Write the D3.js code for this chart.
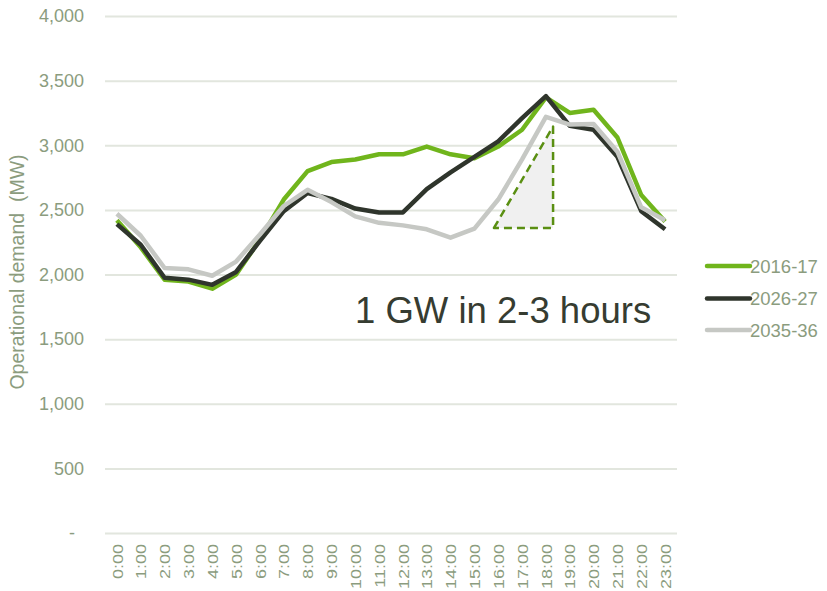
<!DOCTYPE html>
<html>
<head>
<meta charset="utf-8">
<script src="https://cdn.jsdelivr.net/npm/d3@7"></script>
<style>
  html, body { margin: 0; padding: 0; background: #ffffff; }
  svg { display: block; font-family: "Liberation Sans", Arial, sans-serif; }
</style>
</head>
<body>
<svg id="chart" width="827" height="591"></svg>
<script>
// Hour-of-day categories
const hours = ["0:00","1:00","2:00","3:00","4:00","5:00","6:00","7:00","8:00","9:00","10:00","11:00",
               "12:00","13:00","14:00","15:00","16:00","17:00","18:00","19:00","20:00","21:00","22:00","23:00"];

// Average operational demand profiles (MW)
const demand2016 = [2420, 2210, 1960, 1945, 1890, 2000, 2270, 2580, 2800, 2870, 2890, 2930,
                    2930, 2990, 2930, 2900, 2990, 3120, 3370, 3250, 3275, 3060, 2615, 2410];
const demand2026 = [2390, 2230, 1975, 1960, 1920, 2020, 2260, 2490, 2630, 2585, 2510, 2480,
                    2480, 2660, 2790, 2910, 3030, 3210, 3380, 3150, 3120, 2910, 2490, 2350];
const demand2035 = [2470, 2300, 2050, 2040, 1990, 2100, 2310, 2530, 2655, 2560, 2450, 2400,
                    2380, 2350, 2285, 2355, 2580, 2890, 3220, 3160, 3165, 2950, 2520, 2420];

const seriesNames = ["2016-17", "2026-27", "2035-36"];
const yTicks = [0, 500, 1000, 1500, 2000, 2500, 3000, 3500, 4000];

// Ramp annotation triangle (fractional hour, MW)
const rampHours = [15.82, 18.3, 18.3];
const rampValues = [2360, 3145, 2360];
const rampLabel = "1 GW in 2-3 hours";

const series = [
  { name: seriesNames[0], values: demand2016, color: "#70b51c" },
  { name: seriesNames[1], values: demand2026, color: "#2f352c" },
  { name: seriesNames[2], values: demand2035, color: "#c6c8c4" }
];

const svg = d3.select("#chart");
const plot = { left: 105, right: 677, top: 16, bottom: 533 };

const x = d3.scalePoint().domain(hours).range([plot.left, plot.right]).padding(0.5);
const y = d3.scaleLinear().domain([0, 4000]).range([plot.bottom, plot.top]);
// continuous hour scale for the annotation, aligned with the point scale
const xh = d3.scaleLinear().domain([0, 23]).range([x(hours[0]), x(hours[23])]);

const labelColor = "#8b9c7e";

// Horizontal gridlines with value labels
const yAxis = d3.axisLeft(y)
  .tickValues(yTicks)
  .tickSize(-(plot.right - plot.left))
  .tickPadding(21)
  .tickFormat(d => d === 0 ? "-" : d3.format(",")(d));

const gy = svg.append("g")
  .attr("transform", `translate(${plot.left},0)`)
  .call(yAxis);
gy.select(".domain").remove();
gy.selectAll(".tick line").attr("stroke", "#e2e6de").attr("stroke-width", 2);
gy.selectAll(".tick text")
  .attr("fill", labelColor)
  .attr("font-size", 18)
  .attr("dx", d => d === 0 ? -9 : 0);

// Hour labels, rotated
const xAxis = d3.axisBottom(x).tickSize(0).tickPadding(0);
const gx = svg.append("g")
  .attr("transform", `translate(0,${plot.bottom})`)
  .call(xAxis);
gx.select(".domain").remove();
gx.selectAll(".tick text")
  .attr("fill", labelColor)
  .attr("font-size", 18)
  .attr("text-anchor", "end")
  .attr("transform", "translate(0,11) rotate(-90) scale(1,0.8)")
  .attr("x", 0)
  .attr("y", 0)
  .attr("dy", "0.36em");

// Y axis title
svg.append("text")
  .attr("transform", `translate(24,${272}) rotate(-90)`)
  .attr("text-anchor", "middle")
  .attr("fill", labelColor)
  .attr("font-size", 19.5)
  .attr("xml:space", "preserve")
  .text("Operational demand  (MW)");

// Ramp triangle
const rampPts = rampHours.map((h, i) => [xh(h), y(rampValues[i])]);
svg.append("path")
  .attr("d", d3.line()(rampPts) + "Z")
  .attr("fill", "#f0f0f0")
  .attr("stroke", "#5a8f12")
  .attr("stroke-width", 2.5)
  .attr("stroke-dasharray", "8,5")
  .attr("stroke-linejoin", "round");

// Demand lines
const line = d3.line()
  .x((d, i) => x(hours[i]))
  .y(d => y(d));

svg.append("g")
  .selectAll("path")
  .data(series)
  .join("path")
  .attr("d", d => line(d.values))
  .attr("fill", "none")
  .attr("stroke", d => d.color)
  .attr("stroke-width", 4.5)
  .attr("stroke-linejoin", "round");

// Annotation text
svg.append("text")
  .attr("x", 355)
  .attr("y", 323)
  .attr("fill", "#363c31")
  .attr("font-size", 36.5)
  .text(rampLabel);

// Legend
const legend = svg.append("g");
const legendY = [266, 298.5, 330];
series.forEach((s, i) => {
  legend.append("line")
    .attr("x1", 707).attr("x2", 750)
    .attr("y1", legendY[i]).attr("y2", legendY[i])
    .attr("stroke", s.color)
    .attr("stroke-width", 4.5)
    .attr("stroke-linecap", "round");
  legend.append("text")
    .attr("x", 750)
    .attr("y", legendY[i])
    .attr("dy", "0.36em")
    .attr("fill", labelColor)
    .attr("font-size", 18.5)
    .text(s.name);
});
</script>
</body>
</html>
